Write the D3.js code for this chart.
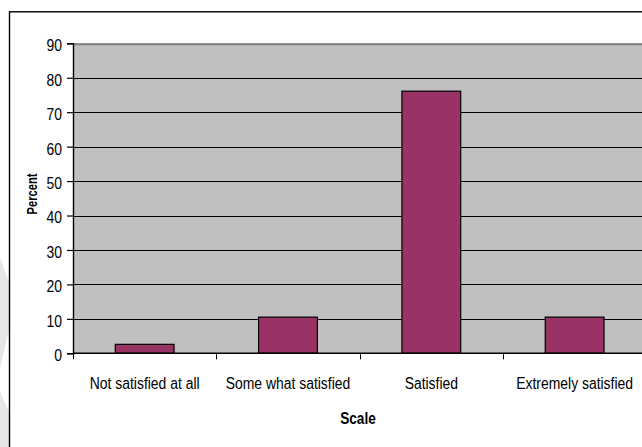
<!DOCTYPE html>
<html>
<head>
<meta charset="utf-8">
<script src="https://cdn.jsdelivr.net/npm/d3@7"></script>
<style>
  html, body { margin: 0; padding: 0; background: #fff; }
  svg { display: block; }
  text { font-family: "Liberation Sans", Arial, sans-serif; fill: #000; }
</style>
</head>
<body>
<svg id="chart" width="642" height="447"></svg>
<script>
// Satisfaction survey: share of respondents per rating
const categories = ["Not satisfied at all", "Some what satisfied", "Satisfied", "Extremely satisfied"];
const percents = [2.6, 10.5, 76.1, 10.5];
const yTicks = [0, 10, 20, 30, 40, 50, 60, 70, 80, 90];
const xTitle = "Scale";
const yTitle = "Percent";

const svg = d3.select("#chart");
const W = 642, H = 447;

// plot area (extends past the right edge of the canvas)
const plot = { left: 73, top: 43.3, right: 646.3, bottom: 353.3 };
const squeeze = 0.87;

// faint background shapes at the far left
svg.append("g").attr("fill", "#e6e6e6")
  .selectAll("path")
  .data([
    [[0, 258], [9, 282], [9, 330], [0, 368]],
    [[0, 392], [9, 412], [9, 447], [0, 447]]
  ])
  .join("path")
  .attr("d", d => d3.line()(d) + "Z");

// chart frame
svg.append("rect")
  .attr("x", 9.5).attr("y", 11.8)
  .attr("width", 700).attr("height", 500)
  .attr("fill", "#fff")
  .attr("stroke", "#000").attr("stroke-width", 1.4);

const x = d3.scaleBand().domain(categories).range([plot.left, plot.right]).padding(0);
const y = d3.scaleLinear().domain([0, 90]).range([plot.bottom, plot.top]);

// grey plot background
svg.append("rect")
  .attr("x", plot.left).attr("y", plot.top)
  .attr("width", plot.right - plot.left).attr("height", plot.bottom - plot.top)
  .attr("fill", "#c0c0c0");

// horizontal gridlines
svg.append("g")
  .selectAll("line")
  .data(yTicks.filter(v => v > 0 && v < 90))
  .join("line")
  .attr("x1", plot.left).attr("x2", plot.right)
  .attr("y1", d => Math.round(y(d)) + 0.5).attr("y2", d => Math.round(y(d)) + 0.5)
  .attr("stroke", "#000").attr("stroke-width", 1.2);

// top edge of plot area
svg.append("line")
  .attr("x1", plot.left).attr("x2", plot.right)
  .attr("y1", plot.top + 1).attr("y2", plot.top + 1)
  .attr("stroke", "#808080").attr("stroke-width", 2);

// bars
const barFrac = 0.41;
svg.append("g")
  .selectAll("rect")
  .data(categories.map((c, i) => ({ c, v: percents[i] })))
  .join("rect")
  .attr("x", d => x(d.c) + x.bandwidth() * (1 - barFrac) / 2)
  .attr("width", x.bandwidth() * barFrac)
  .attr("y", d => y(d.v))
  .attr("height", d => y(0) - y(d.v))
  .attr("fill", "#993366")
  .attr("stroke", "#000").attr("stroke-width", 1.2);

// y axis
const yAxis = svg.append("g")
  .attr("transform", `translate(${plot.left},0)`)
  .call(d3.axisLeft(y).tickValues(yTicks).tickSize(6).tickFormat(d3.format("d")));
yAxis.select(".domain").attr("stroke", "#000").attr("stroke-width", 1.4);
yAxis.selectAll(".tick line").attr("stroke", "#000").attr("stroke-width", 1.2);
yAxis.selectAll(".tick text")
  .attr("font-size", 16)
  .attr("font-family", "Liberation Sans, Arial, sans-serif")
  .attr("x", -11 / squeeze)
  .attr("dy", "0.46em")
  .attr("transform", `scale(${squeeze},1)`);

// x axis: labels centred in each band, ticks on band boundaries
const xAxis = svg.append("g")
  .attr("transform", `translate(0,${plot.bottom})`)
  .call(d3.axisBottom(x).tickSize(0).tickPadding(0));
xAxis.select(".domain").remove();
xAxis.append("line")
  .attr("x1", plot.left).attr("x2", plot.right)
  .attr("y1", 0).attr("y2", 0)
  .attr("stroke", "#000").attr("stroke-width", 1.6);
xAxis.selectAll(".tick text")
  .attr("font-size", 16)
  .attr("font-family", "Liberation Sans, Arial, sans-serif")
  .attr("y", 36).attr("dy", 0)
  .attr("transform", `scale(${squeeze},1)`)
  .attr("x", function () {
    const t = d3.select(this.parentNode).attr("transform");
    return 0;
  });
// keep the squeezed labels centred on their band
xAxis.selectAll(".tick").each(function (d) {
  const cx = x(d) + x.bandwidth() / 2;
  d3.select(this).attr("transform", `translate(${cx},0)`);
});
xAxis.append("g")
  .selectAll("line")
  .data(categories)
  .join("line")
  .attr("x1", d => Math.round(x(d)) + 0.5).attr("x2", d => Math.round(x(d)) + 0.5)
  .attr("y1", 0).attr("y2", 6)
  .attr("stroke", "#000").attr("stroke-width", 1);

// axis titles
svg.append("text")
  .attr("transform", `translate(358,424) scale(0.85,1)`)
  .attr("text-anchor", "middle")
  .attr("font-size", 16).attr("font-weight", "bold")
  .text(xTitle);

svg.append("text")
  .attr("transform", `translate(37,194) rotate(-90) scale(0.8,1)`)
  .attr("text-anchor", "middle")
  .attr("font-size", 14).attr("font-weight", "bold")
  .text(yTitle);
</script>
</body>
</html>
